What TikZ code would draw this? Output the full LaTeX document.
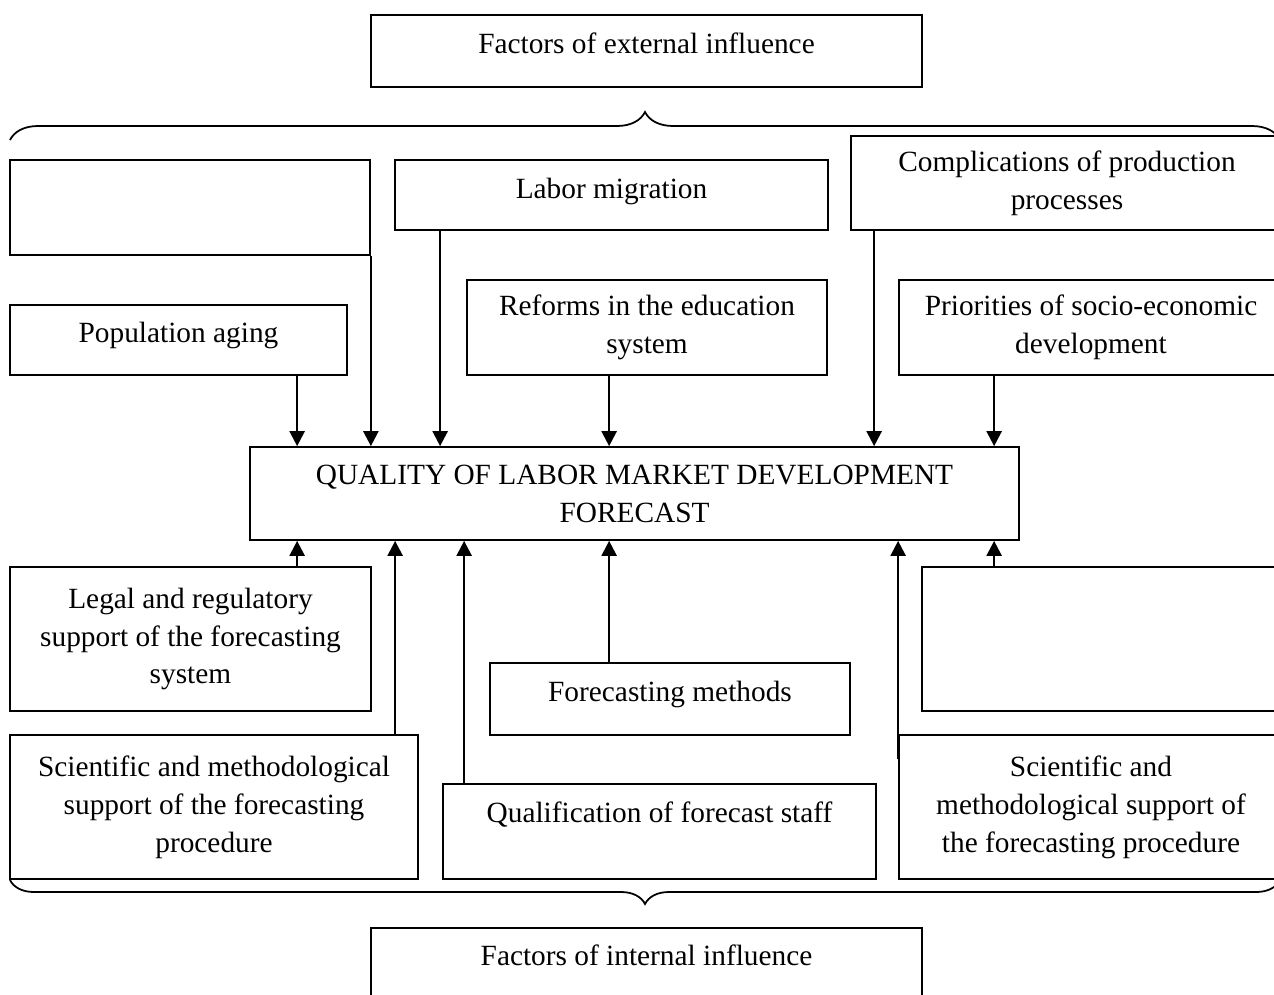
\documentclass[tikz,border=0pt]{standalone}
\usepackage{fontspec}
\setmainfont{Liberation Serif}
\usetikzlibrary{calc,arrows.meta,decorations.pathreplacing}
\tikzset{
  box/.style={draw, line width=1pt, rectangle, inner sep=0pt, align=center,
    font=\fontsize{16.7}{21.6}\selectfont},
  bw/.style={minimum width=#1*0.02cm},
  bh/.style={minimum height=#1*0.02cm},
  up/.style={text depth=#1*0.02cm},
  conn/.style={line width=1.4pt, -{Triangle[length=0.3cm,width=0.3cm]}},
  bracestyle/.style={line width=1pt, decorate, decoration={brace, amplitude=#1*0.02cm}}
}
\begin{document}
\begin{tikzpicture}[x=0.02cm,y=-0.02cm]
\useasboundingbox (0,0) rectangle (1274,994);
\clip (0,0) rectangle (1274,994);
% top
\node[box,bw=551,bh=72,up=16] (ext) at (646.5,51) {Factors of external influence};
\coordinate (tbL) at (10,140);
\coordinate (tbR) at (1280,140);
\draw[bracestyle=28] (tbL) -- (tbR);
% external factors
\node[box,bw=360,bh=95] (A) at (190,207.5) {};
\node[box,bw=433,bh=70,up=14] (labor) at (611.5,195) {Labor migration};
\node[box,bw=432,bh=94] (compl) at (1067,183) {Complications of production\\processes};
\node[box,bw=337,bh=70,up=16] (popag) at (178.5,340) {Population aging};
\node[box,bw=360,bh=95] (reforms) at (647,327.5) {Reforms in the education\\system};
\node[box,bw=384,bh=95] (prior) at (1091,327.5) {Priorities of socio-economic\\development};
% center
\node[box,bw=769,bh=93] (center) at (634.5,493.5) {QUALITY OF LABOR MARKET DEVELOPMENT\\FORECAST};
% internal factors
\node[box,bw=361,bh=144] (legal) at (190.5,639) {Legal and regulatory\\support of the forecasting\\system};
\node[box,bw=408,bh=144] (sciL) at (214,807) {Scientific and methodological\\support of the forecasting\\procedure};
\node[box,bw=360,bh=72,up=16] (methods) at (670,699) {Forecasting methods};
\node[box,bw=433,bh=95,up=38] (qual) at (659.5,831.5) {Qualification of forecast staff};
\node[box,bw=361,bh=144] (emptyR) at (1102.5,639) {};
\node[box,bw=384,bh=144] (sciR) at (1091,807) {Scientific and\\methodological support of\\the forecasting procedure};
\coordinate (bbR) at (1280,880);
\coordinate (bbL) at (10,880);
\draw[bracestyle=24] (bbR) -- (bbL);
\node[box,bw=551,bh=72,up=18] (intl) at (646.5,964) {Factors of internal influence};
% arrows down
\draw[conn] (A.south east) -- (A.south east |- center.north);
\draw[conn] ($(labor.south west)+(46,0)$) coordinate (l1) -- (l1 |- center.north);
\draw[conn] ($(compl.south west)+(24,0)$) coordinate (c1) -- (c1 |- center.north);
\draw[conn] ($(popag.south west)+(288,0)$) coordinate (p1) -- (p1 |- center.north);
\draw[conn] ($(reforms.south west)+(143,0)$) coordinate (r1) -- (r1 |- center.north);
\draw[conn] ($(prior.south west)+(96,0)$) coordinate (q1) -- (q1 |- center.north);
% arrows up
\draw[conn] ($(legal.north west)+(288,0)$) coordinate (g1) -- (g1 |- center.south);
\draw[conn] ($(sciL.north west)+(386,0)$) coordinate (s1) -- (s1 |- center.south);
\draw[conn] ($(qual.north west)+(22,0)$) coordinate (k1) -- (k1 |- center.south);
\draw[conn] ($(methods.north west)+(120,0)$) coordinate (m1) -- (m1 |- center.south);
\draw[conn] ($(emptyR.north west)+(73,0)$) coordinate (e1) -- (e1 |- center.south);
\draw[conn] ($(sciR.north west)+(0,25)$) coordinate (z1) -- (z1 |- center.south);
\end{tikzpicture}
\end{document}
